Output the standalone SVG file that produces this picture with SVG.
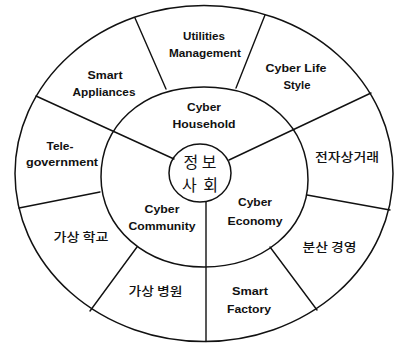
<svg xmlns="http://www.w3.org/2000/svg" width="394" height="343" viewBox="0 0 394 343">
<style>
.ring{fill:none;stroke:#111;stroke-width:1.5}
.div{stroke:#111;stroke-width:1.4;fill:none;stroke-linecap:round}
.en{font-family:"Liberation Sans",Arial,sans-serif;font-weight:bold;font-size:10.5px;fill:#111;text-anchor:middle}
.ko{font-family:"Noto Sans CJK KR","Noto Sans",sans-serif;font-size:12.5px;font-weight:500;fill:#111;text-anchor:middle}
.ctr{font-family:"Noto Sans CJK KR","Noto Sans",sans-serif;font-size:16px;fill:#111;text-anchor:middle}
</style>
<rect width="394" height="343" fill="#fff"/>
<g id="rings">
<ellipse class="ring" cx="204" cy="173.5" rx="189" ry="168"/>
<path class="ring" d="M101,177 C101,127 140,87 204,87 C268,87 308,128 308,180 C308,230 262,267 204,267 C146,267 101,228 101,177 Z"/>
<ellipse class="ring" cx="200" cy="173" rx="31" ry="29"/>
</g>
<g id="connectors">
<line class="div" x1="36" y1="96" x2="174" y2="159"/>
<line class="div" x1="371" y1="93" x2="229" y2="160"/>
<line class="div" x1="206" y1="202" x2="206" y2="341.5"/>
<line class="div" x1="135" y1="18" x2="166" y2="89"/>
<line class="div" x1="265" y1="15" x2="236" y2="88"/>
<line class="div" x1="307" y1="195" x2="390" y2="210"/>
<line class="div" x1="270" y1="247" x2="317" y2="310"/>
<line class="div" x1="137" y1="247" x2="90" y2="311"/>
<line class="div" x1="100" y1="192" x2="19" y2="208"/>
</g>
<g id="center">
<text class="ctr" x="200" y="168" textLength="33" lengthAdjust="spacing">정보</text>
<text class="ctr" x="200" y="191" textLength="36" lengthAdjust="spacing">사회</text>
</g>
<g id="cyber-household">
<text class="en" x="204" y="110.5" textLength="34" lengthAdjust="spacingAndGlyphs">Cyber</text>
<text class="en" x="204" y="127.5" textLength="63" lengthAdjust="spacingAndGlyphs">Household</text>
</g>
<g id="cyber-community">
<text class="en" x="162" y="213" textLength="35" lengthAdjust="spacingAndGlyphs">Cyber</text>
<text class="en" x="162" y="230" textLength="67" lengthAdjust="spacingAndGlyphs">Community</text>
</g>
<g id="cyber-economy">
<text class="en" x="255" y="206" textLength="34" lengthAdjust="spacingAndGlyphs">Cyber</text>
<text class="en" x="255" y="224.5" textLength="55" lengthAdjust="spacingAndGlyphs">Economy</text>
</g>
<g id="utilities-management">
<text class="en" x="204" y="40" textLength="42" lengthAdjust="spacingAndGlyphs">Utilities</text>
<text class="en" x="205" y="56.5" textLength="72" lengthAdjust="spacingAndGlyphs">Management</text>
</g>
<g id="smart-appliances">
<text class="en" x="105" y="79" textLength="35" lengthAdjust="spacingAndGlyphs">Smart</text>
<text class="en" x="104" y="95.5" textLength="63" lengthAdjust="spacingAndGlyphs">Appliances</text>
</g>
<g id="cyber-life-style">
<text class="en" x="296" y="71.5" textLength="61" lengthAdjust="spacingAndGlyphs">Cyber Life</text>
<text class="en" x="297" y="89" textLength="27" lengthAdjust="spacingAndGlyphs">Style</text>
</g>
<g id="tele-government">
<text class="en" x="60" y="150" textLength="27" lengthAdjust="spacingAndGlyphs">Tele-</text>
<text class="en" x="62" y="165.5" textLength="72" lengthAdjust="spacingAndGlyphs">government</text>
</g>
<g id="e-commerce">
<text class="ko" x="347" y="162" textLength="64" lengthAdjust="spacingAndGlyphs">전자상거래</text>
</g>
<g id="distributed-management">
<text class="ko" x="329.5" y="251.5" textLength="54" lengthAdjust="spacingAndGlyphs">분산 경영</text>
</g>
<g id="smart-factory">
<text class="en" x="250" y="295" textLength="36" lengthAdjust="spacingAndGlyphs">Smart</text>
<text class="en" x="249" y="313" textLength="44" lengthAdjust="spacingAndGlyphs">Factory</text>
</g>
<g id="virtual-hospital">
<text class="ko" x="155.5" y="296" textLength="54" lengthAdjust="spacingAndGlyphs">가상 병원</text>
</g>
<g id="virtual-school">
<text class="ko" x="81" y="241.5" textLength="55" lengthAdjust="spacingAndGlyphs">가상 학교</text>
</g>
</svg>
